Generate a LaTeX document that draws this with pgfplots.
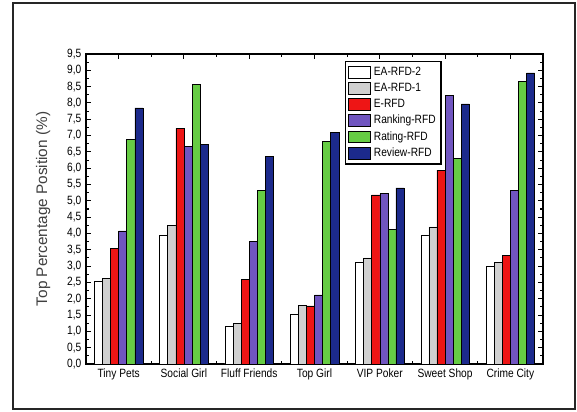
\documentclass[border=0pt]{standalone}
\usepackage{fontspec}
\setmainfont{Liberation Sans}
\newfontfamily\narrowfont{Liberation Sans}[FakeStretch=0.85]
\usepackage{pgfplots}
\usepackage{pgfplotstable}
\pgfplotsset{compat=1.18}

\definecolor{eaone}{HTML}{D0D0D0}
\definecolor{erfd}{HTML}{EE1515}
\definecolor{rank}{HTML}{7055C0}
\definecolor{rate}{HTML}{66CC44}
\definecolor{review}{HTML}{1C2A8C}

% columns: EA-RFD-2, EA-RFD-1, E-RFD, Ranking-RFD, Rating-RFD, Review-RFD
\pgfplotstableread{
x a b c d e f
0 2.55 2.62 3.55 4.08 6.88 7.85
1 3.95 4.25 7.22 6.68 8.56 6.72
2 1.15 1.25 2.60 3.76 5.31 6.36
3 1.53 1.80 1.78 2.12 6.83 7.10
4 3.12 3.25 5.18 5.22 4.12 5.40
5 3.95 4.20 5.94 8.23 6.30 7.97
6 3.00 3.12 3.33 5.32 8.65 8.92
}\data

\begin{document}
\begin{tikzpicture}
\begin{axis}[
    name=ax,
    scale only axis,
    width=342.75pt, height=232.5pt,
    ybar=0pt, bar width=0.124,
    xmin=-0.5, xmax=6.5,
    ymin=0, ymax=9.5,
    enlargelimits=false,
    xtick={0,...,6},
    xticklabels={Tiny Pets, Social Girl, Fluff Friends, Top Girl, VIP Poker, Sweet Shop, Crime City},
    minor x tick num=1,
    ytick={0,0.5,...,9.5},
    minor y tick num=1,
    tick pos=both,
    tick align=inside,
    major tick length=4pt,
    minor tick length=2.5pt,
    tick style={black, line width=0.8pt},
    axis line style={black, line width=0.8pt},
    ticklabel style={font=\narrowfont\fontsize{9}{10}\selectfont},
    /pgf/number format/.cd, fixed, fixed zerofill, precision=1, use comma, assume math mode=true,
    /pgfplots/.cd,
    ylabel={Top Percentage Position (\%)},
    ylabel style={font=\fontsize{11.5}{13}\selectfont, color=black!75, at={(axis description cs:-0.094,0.5)}, anchor=center},
    legend style={at={(0.567,0.977)}, anchor=north west, draw=black, line width=1pt,
        font=\narrowfont\fontsize{9}{10}\selectfont, row sep=0.3pt, inner sep=2pt},
    legend cell align=left,
    legend image code/.code={\draw[#1, line width=0.6pt] (0pt,-4.3pt) rectangle (16.5pt,4.3pt);},
    every axis plot/.append style={draw=black, line width=0.4pt},
]
\addplot[fill=white] table[x=x, y=a] {\data};
\addplot[fill=eaone] table[x=x, y=b] {\data};
\addplot[fill=erfd] table[x=x, y=c] {\data};
\addplot[fill=rank] table[x=x, y=d] {\data};
\addplot[fill=rate] table[x=x, y=e] {\data};
\addplot[fill=review] table[x=x, y=f] {\data};
\legend{EA-RFD-2, EA-RFD-1, E-RFD, Ranking-RFD, Rating-RFD, Review-RFD}
\end{axis}
\draw[line width=1.2pt, black!85] ([xshift=-54.75pt,yshift=-33.75pt]ax.south west) rectangle ([xshift=24pt,yshift=38.25pt]ax.north east);
\path[use as bounding box] ([xshift=-64.5pt,yshift=-36pt]ax.south west) rectangle ([xshift=25.5pt,yshift=40.5pt]ax.north east);
\end{tikzpicture}
\end{document}
